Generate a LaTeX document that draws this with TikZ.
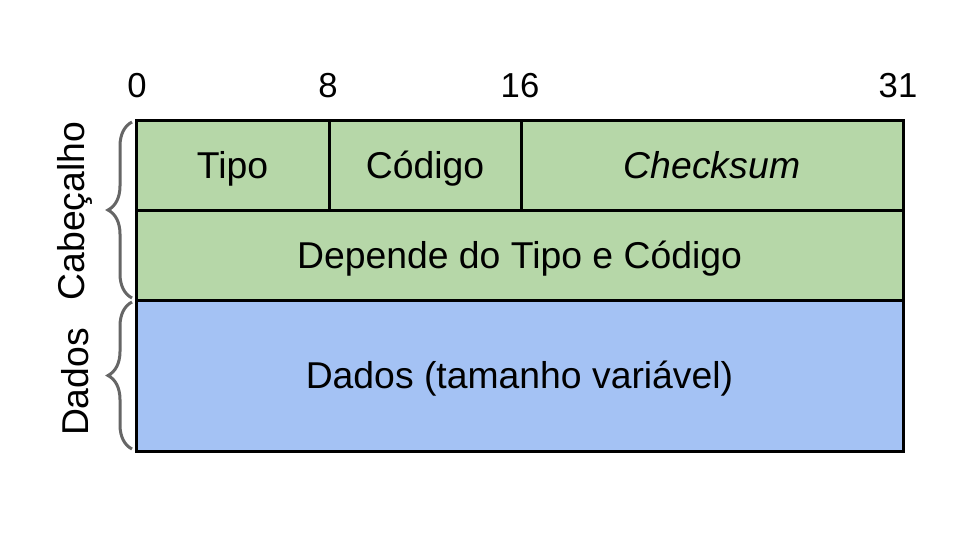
\documentclass[tikz,border=0pt]{standalone}
\usepackage{fontspec}
\setmainfont{Liberation Sans}
\usetikzlibrary{%
    decorations.pathreplacing,
    positioning
}
\definecolor{headergreen}{HTML}{B6D7A8}
\definecolor{datablue}{HTML}{A4C2F4}
\definecolor{bracegray}{HTML}{666666}
\tikzset{bigtext/.style = {font=\fontsize{28}{32}\selectfont}}

\begin{document}
\begin{tikzpicture}[
    x=0.75pt, y=-0.75pt,
    field/.style = {draw, line width=2.25pt, inner sep=0pt, outer sep=0pt,
        anchor=north west, text height=20pt, text depth=0pt, bigtext},
    bitnum/.style = {font=\fontsize{26}{30}\selectfont, anchor=base, inner sep=0pt},
    sidebrace/.style = {decorate, decoration={brace, amplitude=18pt},
        draw=bracegray, line width=2.25pt},
    sidelabel/.style = {bigtext, rotate=90, inner sep=0pt}]
    \useasboundingbox (0,0) rectangle (960,540);

    % bit positions
    \node[bitnum] (b0)  at (137,97) {0};
    \node[bitnum] (b8)  at (328,97) {8};
    \node[bitnum] (b16) at (520,97) {16};
    \node[bitnum] (b31) at (898,97) {31};

    % header fields
    \node[field, fill=headergreen, minimum width=144.75pt, minimum height=67.5pt]
        (tipo) at (136,120) {Tipo};
    \node[field, fill=headergreen, minimum width=144pt, minimum height=67.5pt]
        (codigo) at (329,120) {Código};
    \node[field, fill=headergreen, minimum width=286.5pt, minimum height=67.5pt]
        (checksum) at (521,120) {\itshape Checksum};
    \node[field, fill=headergreen, minimum width=575.25pt, minimum height=67.5pt]
        (resto) at (136,210) {Depende do Tipo e Código};

    % data
    \node[field, fill=datablue, minimum width=575.25pt, minimum height=113.25pt]
        (dados) at (136,300) {Dados (tamanho variável)};

    % braces
    \coordinate (cabtop) at (132,122);
    \coordinate (cabbot) at (132,298);
    \coordinate (dadtop) at (132,302);
    \coordinate (dadbot) at (132,449);
    \draw[sidebrace] (cabbot) to (cabtop);
    \draw[sidebrace] (dadbot) to (dadtop);

    \node[sidelabel] (cablabel) at (75,211) {Cabeçalho};
    \node[sidelabel] (dadlabel) at (75,382) {Dados};
\end{tikzpicture}
\end{document}
